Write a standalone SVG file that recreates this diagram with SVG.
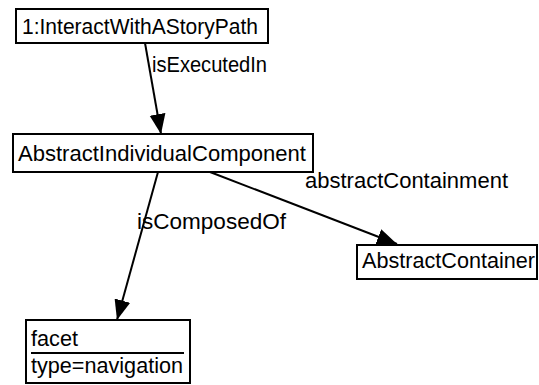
<svg xmlns="http://www.w3.org/2000/svg" width="539" height="385" viewBox="0 0 539 385">
<style>
.box{fill:#fff;stroke:#000;stroke-width:2}
.t{font-family:"Liberation Sans",Arial,sans-serif;font-size:21.5px;fill:#000}
.e{stroke:#000;stroke-width:2;fill:none}
</style>
<defs>
<marker id="arr" markerUnits="userSpaceOnUse" markerWidth="22" markerHeight="18" refX="20" refY="8" orient="auto">
<path d="M0,0 L20,8 L0,16 Z" fill="#000"/>
</marker>
</defs>
<rect width="539" height="385" fill="#fff"/>
<g id="connectors">
<line class="e" x1="145" y1="43" x2="161" y2="134" marker-end="url(#arr)"/>
<line class="e" x1="158" y1="172" x2="117" y2="320" marker-end="url(#arr)"/>
<line class="e" x1="210" y1="172" x2="397" y2="244" marker-end="url(#arr)"/>
<text class="t" x="152" y="72" textLength="115" lengthAdjust="spacingAndGlyphs">isExecutedIn</text>
<text class="t" x="137" y="229" textLength="149" lengthAdjust="spacingAndGlyphs">isComposedOf</text>
<text class="t" x="305" y="188" textLength="203" lengthAdjust="spacingAndGlyphs">abstractContainment</text>
</g>
<g id="n1">
<rect class="box" x="16" y="9" width="252" height="34"/>
<text class="t" x="22" y="34" textLength="236" lengthAdjust="spacingAndGlyphs">1:InteractWithAStoryPath</text>
</g>
<g id="n2">
<rect class="box" x="13" y="134" width="300" height="38"/>
<text class="t" x="18" y="161" textLength="288" lengthAdjust="spacingAndGlyphs">AbstractIndividualComponent</text>
</g>
<g id="n3">
<rect class="box" x="357" y="245" width="180" height="34"/>
<text class="t" x="362" y="268" textLength="173" lengthAdjust="spacingAndGlyphs">AbstractContainer</text>
</g>
<g id="n4">
<rect class="box" x="26" y="320" width="164" height="63"/>
<text class="t" x="31" y="346" textLength="47" lengthAdjust="spacingAndGlyphs">facet</text>
<line x1="31" y1="353" x2="184" y2="353" stroke="#000" stroke-width="2"/>
<text class="t" x="31" y="373" textLength="152" lengthAdjust="spacingAndGlyphs">type=navigation</text>
</g>
</svg>
